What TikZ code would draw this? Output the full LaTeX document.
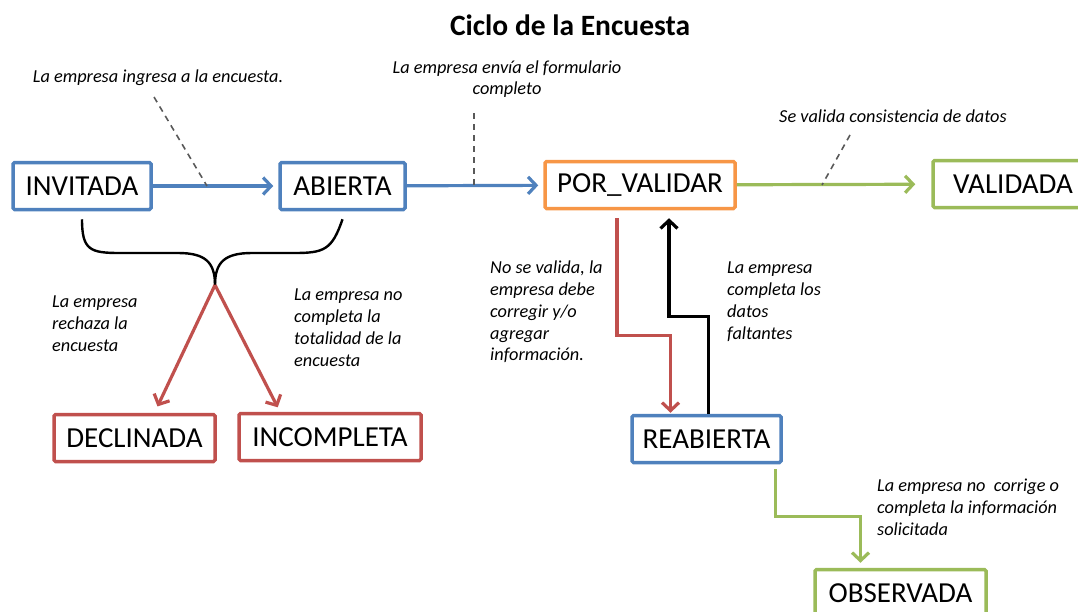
\documentclass[tikz,border=0pt]{standalone}
\usepackage{fontspec}
\setmainfont{Carlito}
\usetikzlibrary{arrows.meta, positioning}
\definecolor{azul}{HTML}{4F81BD}
\definecolor{naranja}{HTML}{F79646}
\definecolor{rojo}{HTML}{C0504D}
\definecolor{verde}{HTML}{9BBB59}
\definecolor{guia}{HTML}{595959}

\begin{document}
\begin{tikzpicture}[x=1pt, y=-1pt,
    estado/.style={draw, line width=3.5pt, rounded corners=1.5pt, fill=white,
        minimum height=47pt, inner sep=0pt, font=\fontsize{29}{31}\selectfont},
    nota/.style={align=left, inner sep=0pt, font=\fontsize{18.3}{21.7}\selectfont\itshape},
    flecha/.style={line width=3.2pt, -{Straight Barb[length=8pt,width=17pt]}},
    guion/.style={guia, line width=1.6pt, dash pattern=on 6pt off 5pt}]

\clip (0,0) rectangle (1078,611);

% Titulo
\node[font=\fontsize{29.5}{31}\selectfont\bfseries] (titulo) at (570,25) {Ciclo de la Encuesta};

% Estados: fila superior
\node[estado, draw=azul, minimum width=138pt] (inv) at (82,186) {INVITADA};
\node[estado, draw=azul, minimum width=125pt] (abi) at (342.5,186) {ABIERTA};
\node[estado, draw=naranja, minimum width=190pt] (pv) at (640,185) {POR\_VALIDAR};
\node[estado, draw=verde, minimum width=160pt] (val) at (1013,184) {VALIDADA};

% Estados: fila inferior
\node[estado, draw=rojo, minimum width=161pt] (dec) at (134.5,438) {DECLINADA};
\node[estado, draw=rojo, minimum width=182pt] (inc) at (330,437) {INCOMPLETA};
\node[estado, draw=azul, minimum width=149pt] (rea) at (706.5,439) {REABIERTA};
\node[estado, draw=verde, minimum width=171pt] (obs) at (900.5,593) {OBSERVADA};

% Flujo principal
\draw[flecha, azul, shorten >=5pt] (inv) -- (abi);
\draw[flecha, azul, shorten >=5pt] (abi) -- (pv);
\draw[flecha, verde, shorten >=16pt] (pv) -- (val);

% Notas del flujo principal
\node[nota] (ing) at (158,78) {La empresa ingresa a la encuesta.};
\node[nota, align=center] (env) at (507,79) {La empresa envía el formulario\\completo};
\node[nota] (cons) at (893,116) {Se valida consistencia de datos};

\coordinate (d1a) at (154,97);  \coordinate (d1b) at (207,186);
\coordinate (d2a) at (474,113); \coordinate (d2b) at (474,186);
\coordinate (d3a) at (850,135); \coordinate (d3b) at (822,185);
\draw[guion] (d1a) -- (d1b);
\draw[guion] (d2a) -- (d2b);
\draw[guion] (d3a) -- (d3b);

% Llave bajo INVITADA y ABIERTA
\coordinate (llave) at (215,285);
\draw[line width=2.4pt] ([yshift=-8pt]inv.south) .. controls (82,250) and (90,253) .. (120,253)
    -- (178,253) .. controls (205,253) and (215,262) .. (llave);
\draw[line width=2.4pt] ([yshift=-8pt]abi.south) .. controls (332,250) and (324,253) .. (294,253)
    -- (252,253) .. controls (225,253) and (215,262) .. (llave);

% Rechazo / incompleta
\draw[flecha, rojo, shorten >=7pt] (llave) -- ([xshift=20pt]dec.north);
\draw[flecha, rojo, shorten >=5pt] (llave) -- ([xshift=-50pt]inc.north);
\node[nota, anchor=north west] (rech) at (52,296) {La empresa\\rechaza la\\encuesta};
\node[nota, anchor=north west] (nocomp) at (294,289) {La empresa no\\completa la\\totalidad de la\\encuesta};

% Validacion fallida y reapertura
\draw[flecha, rojo] ([xshift=-23pt,yshift=-8pt]pv.south) -- ++(0,117)
    -| ([xshift=-36pt,yshift=1pt]rea.north);
\draw[flecha, black] ([xshift=2pt]rea.north) -- ++(0,-97)
    -| ([xshift=29pt,yshift=-8pt]pv.south);
\node[nota, anchor=north west] (noval) at (490,261) {No se valida, la\\empresa debe\\corregir y/o\\agregar\\información.};
\node[nota, anchor=north west] (compl) at (727,262) {La empresa\\completa los\\datos\\faltantes};

% Observada
\draw[flecha, verde] ([xshift=69pt,yshift=-5pt]rea.south) -- ++(0,47)
    -| ([xshift=-40pt,yshift=5pt]obs.north);
\node[nota, anchor=north west] (nocorr) at (877,479) {La empresa no\ \ corrige o\\completa la información\\solicitada};

\end{tikzpicture}
\end{document}
